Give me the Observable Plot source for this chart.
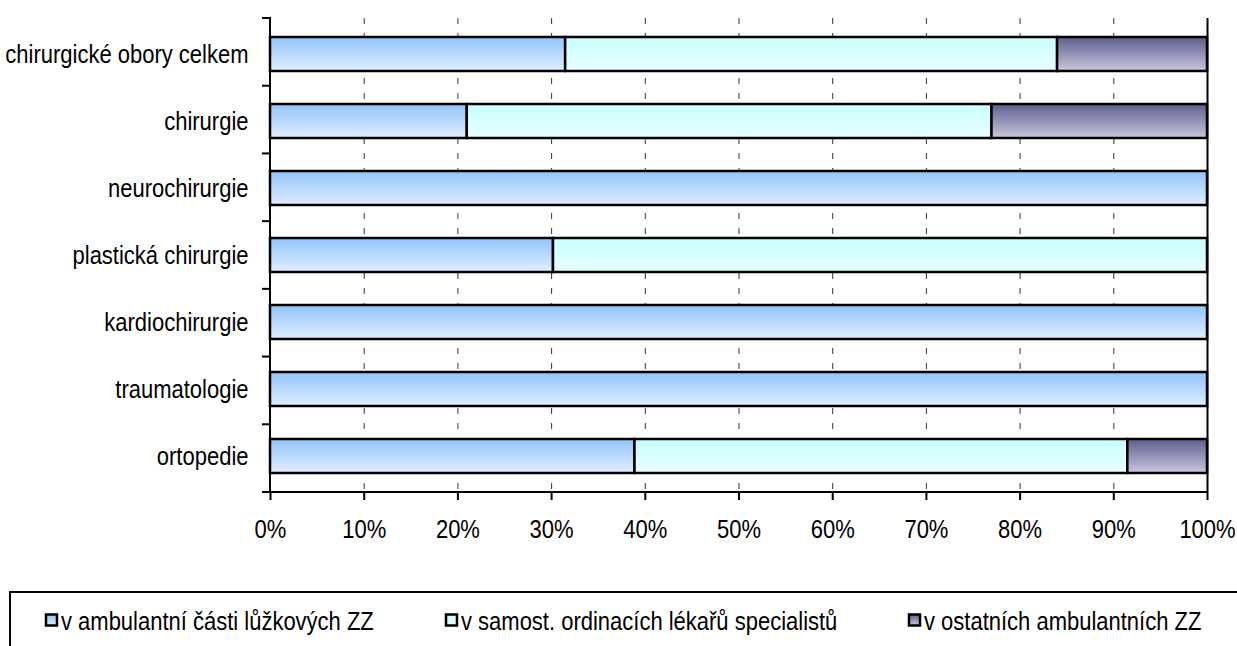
<!DOCTYPE html>
<html><head><meta charset="utf-8">
<script src="https://cdn.jsdelivr.net/npm/d3@7"></script>
<script src="https://cdn.jsdelivr.net/npm/@observablehq/plot@0.6"></script>
<style>
body{margin:0;background:#fff;}
svg{display:block;overflow:visible}
</style></head><body>
<div id="chart"></div>
<div id="legend"></div>
<script>
const categories = ["chirurgické obory celkem","chirurgie","neurochirurgie","plastická chirurgie","kardiochirurgie","traumatologie","ortopedie"];
const seriesNames = ["v ambulantní části lůžkových ZZ","v samost. ordinacích lékařů specialistů","v ostatních ambulantních ZZ"];
const ambulantni = [31.5, 21.0, 100, 30.2, 100, 100, 38.9];
const samost     = [52.5, 56.0, 0, 69.8, 0, 0, 52.6];
const ostatni    = [16.0, 23.0, 0, 0, 0, 0, 8.5];
const xTicks = [0,10,20,30,40,50,60,70,80,90,100];
const gridTicks = [10,20,30,40,50,60,70,80,90];

const FONT = '"Liberation Sans", Arial, sans-serif';
const FS = 25, SQUEEZE = 0.88;

const seriesValues = [ambulantni, samost, ostatni];
const data = [];
seriesNames.forEach((s, i) => categories.forEach((c, j) => {
  if (seriesValues[i][j] > 0) data.push({category: c, series: s, value: seriesValues[i][j]});
}));

const gradients = [["g0","#92c4fa","#e1edff"],["g1","#c9ffff","#e9ffff"],["g2","#5e5e8e","#c8c8dd"]];
function makeDefs(sel) {
  for (const [id, a, b] of gradients) {
    const lg = sel.append("linearGradient").attr("id", id).attr("x1", 0).attr("y1", 0).attr("x2", 0).attr("y2", 1);
    lg.append("stop").attr("offset", "0%").attr("stop-color", a);
    lg.append("stop").attr("offset", "100%").attr("stop-color", b);
  }
}
function defsMark() {
  const defs = d3.create("svg:defs");
  makeDefs(defs);
  return defs.node();
}
function axisLines(index, scales, values, dim) {
  const g = d3.create("svg:g").attr("stroke", "#000").attr("stroke-width", 2);
  const top = dim.marginTop, bottom = dim.height - dim.marginBottom;
  const left = dim.marginLeft, right = dim.width - dim.marginRight;
  const n = categories.length, step = (bottom - top) / n;
  for (let k = 0; k < n; k++) {
    const y = top + k * step;
    g.append("line").attr("x1", left - 8).attr("x2", left).attr("y1", y).attr("y2", y);
  }
  g.append("line").attr("x1", left).attr("x2", left).attr("y1", top - 1).attr("y2", bottom + 1);
  g.append("line").attr("x1", left - 8).attr("x2", right + 1).attr("y1", bottom).attr("y2", bottom);
  return g.node();
}

const plot = Plot.plot({
  width: 1237, height: 545,
  marginLeft: 270, marginRight: 30, marginTop: 18, marginBottom: 53,
  style: {fontFamily: FONT, fontSize: FS + "px", color: "#000", background: "#fff"},
  x: {domain: [0, 100], label: null},
  y: {domain: categories, paddingInner: 0.5, paddingOuter: 0.25, label: null},
  color: {domain: seriesNames, range: ["url(#g0)","url(#g1)","url(#g2)"]},
  marks: [
    defsMark,
    Plot.ruleX(gridTicks, {stroke: "#333", strokeWidth: 1, strokeDasharray: "6,9"}),
    Plot.barX(data, {x: "value", y: "category", fill: "series", stroke: "#000", strokeWidth: 2.5, order: seriesNames}),
    Plot.ruleX([100], {stroke: "#000", strokeWidth: 2}),
    Plot.axisY({tickSize: 0, tickPadding: 22, fontSize: FS, label: null}),
    Plot.axisX({ticks: xTicks, tickFormat: d => d + "%", tickSize: 8, tickPadding: 20, fontSize: FS, strokeWidth: 2, label: null}),
    axisLines
  ]
});
document.getElementById("chart").appendChild(plot);

// legend below the chart
const lg = d3.select("#legend").append("svg").attr("width", 1237).attr("height", 101)
  .style("font-family", FONT).style("font-size", FS + "px");
makeDefs(lg.append("defs"));
lg.append("rect").attr("x", 10).attr("y", 47).attr("width", 1240).attr("height", 80)
  .attr("fill", "none").attr("stroke", "#000").attr("stroke-width", 2);
const legendX = [46, 446, 909];
seriesNames.forEach((s, i) => {
  const g = lg.append("g").attr("transform", `translate(${legendX[i]},76)`);
  g.append("rect").attr("x", 0).attr("y", -6.5).attr("width", 11).attr("height", 11)
    .attr("fill", `url(#g${i})`).attr("stroke", "#000").attr("stroke-width", 2.5);
  g.append("text").attr("x", 15).attr("y", 0).attr("dy", "0.35em").attr("fill", "#000").text(s);
});

function squeeze(root, k) {
  root.querySelectorAll("text").forEach(t => {
    const b = t.getBBox();
    const anchor = getComputedStyle(t).textAnchor;
    const cx = anchor === "end" ? b.x + b.width : anchor === "middle" ? b.x + b.width / 2 : b.x;
    const tr = t.getAttribute("transform") || "";
    t.setAttribute("transform", `${tr} translate(${cx},0) scale(${k},1) translate(${-cx},0)`);
  });
}
squeeze(plot, SQUEEZE);
squeeze(lg.node(), SQUEEZE);
</script>
</body></html>
